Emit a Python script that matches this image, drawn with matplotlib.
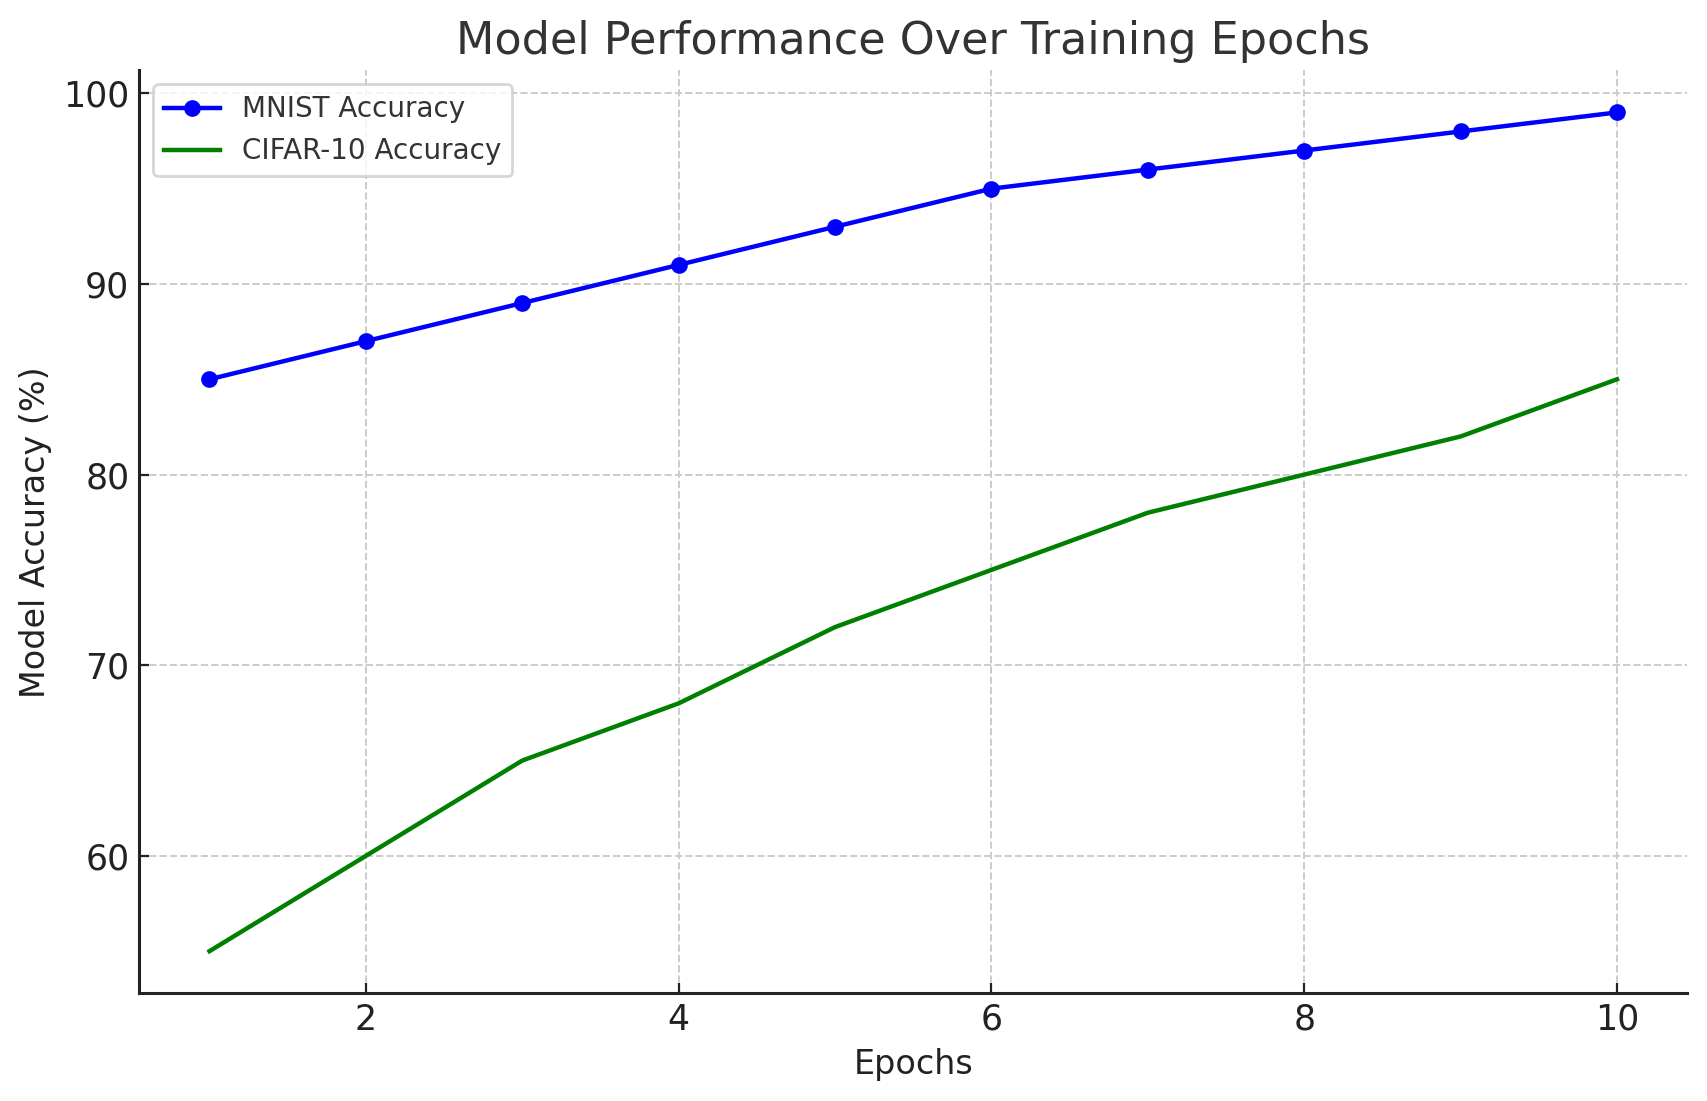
import numpy as np
import matplotlib.pyplot as plt

# Données
epochs = [1, 2, 3, 4, 5, 6, 7, 8, 9, 10]
mnist_acc = [85, 87, 89, 91, 93, 95, 96, 97, 98, 99]
cifar_acc = [55, 60, 65, 68, 72, 75, 78, 80, 82, 85]

fig = plt.figure(figsize=(8.535, 5.505), dpi=200)
ax = fig.add_axes([0.0815, 0.098, 0.907, 0.838])

ax.plot(epochs, mnist_acc, color="blue", marker="o", markersize=5, linewidth=1.6, label="MNIST Accuracy")
ax.plot(epochs, cifar_acc, color="green", linewidth=1.6, label="CIFAR-10 Accuracy")

ax.set_title("Model Performance Over Training Epochs", fontsize=16, color="#333333")
ax.set_xlabel("Epochs", fontsize=12, color="#222222")
ax.set_ylabel("Model Accuracy (%)", fontsize=12, color="#222222")

ax.spines["top"].set_visible(False)
ax.spines["right"].set_visible(False)
for s in ("left", "bottom"):
    ax.spines[s].set_linewidth(1.1)
    ax.spines[s].set_color("#222222")
ax.tick_params(direction="in", labelsize=12.5, colors="#222222", length=3.5)

ax.grid(True, linestyle="--", color="#cccccc", linewidth=0.7)
leg = ax.legend(loc="upper left", fontsize=10, frameon=True)
for t in leg.get_texts():
    t.set_color("#333333")

fig.savefig("out.png", dpi=200)
